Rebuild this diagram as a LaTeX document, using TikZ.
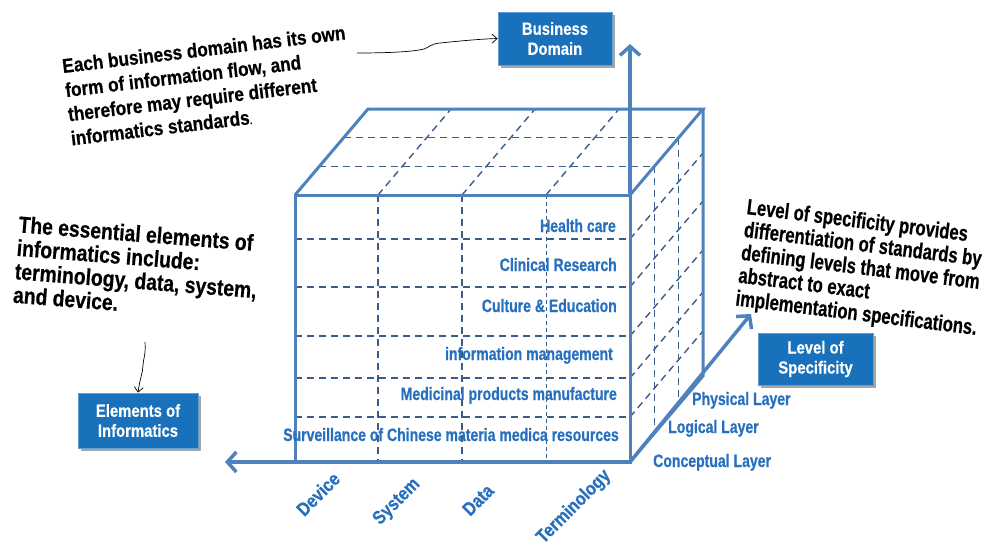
\documentclass[tikz,border=0pt]{standalone}
\usepackage{fontspec}
\setmainfont{Liberation Sans}
\newfontfamily\lblfont{Liberation Sans}[FakeStretch=0.78,FakeBold=0.6]
\newfontfamily\axfont{Liberation Sans}[FakeStretch=0.85,FakeBold=0.6]
\newfontfamily\boxfont{Liberation Sans}[FakeStretch=0.85,FakeBold=0.4]
\newfontfamily\notefont{Liberation Sans}[FakeStretch=0.86,FakeBold=0.5]
\newfontfamily\bignotefont{Liberation Sans}[FakeStretch=0.84,FakeBold=0.5]
\newfontfamily\specfont{Liberation Sans}[FakeStretch=0.755,FakeBold=0.5]
\usetikzlibrary{arrows.meta,shadows,calc}

\definecolor{edge}{RGB}{79,129,189}
\definecolor{grid}{RGB}{56,93,138}
\definecolor{lbl}{RGB}{40,112,190}
\definecolor{boxfill}{RGB}{24,113,186}
\definecolor{boxedge}{RGB}{95,158,213}

\tikzset{
  edgeline/.style={draw=edge, line width=3pt, line join=miter},
  gridline/.style={draw=grid, line width=1.4pt, dash pattern=on 7pt off 5pt},
  fineline/.style={draw=grid, line width=0.9pt, dash pattern=on 4pt off 3pt},
  axisarrow/.style={draw=edge, line width=3.5pt, -{Straight Barb[length=9pt,width=20pt]}},
  leader/.style={draw=black, line width=0.7pt, -{Straight Barb[length=5pt,width=9pt]}},
  rowlbl/.style={text=lbl, font={\fontsize{18}{20}\lblfont\bfseries}, anchor=base east, inner sep=0pt},
  layerlbl/.style={text=lbl, font={\fontsize{18}{20}\lblfont\bfseries}, anchor=base west, inner sep=0pt},
  axlbl/.style={text=lbl, font={\fontsize{19}{21}\axfont\bfseries}, rotate=45, anchor=center, inner sep=0pt},
  infobox/.style={fill=boxfill, draw=boxedge, line width=0.8pt, text=white,
    font={\fontsize{17.5}{20}\boxfont\bfseries}, align=center, inner sep=2pt,
    drop shadow={shadow xshift=2.5pt, shadow yshift=-2.5pt, opacity=0.35, fill=black}},
  note/.style={text=black, align=left, inner sep=0pt, anchor=north west}
}

\begin{document}
\begin{tikzpicture}[x=1pt,y=-1pt]
\useasboundingbox (0,0) rectangle (990,549);

% ---- interior grid of the cube ----
% front face: rows
\foreach \yy in {239,287,336,378,417}
  \draw[gridline] (295,\yy) -- (630,\yy);
% front face: columns
\foreach \xx in {378,462}
  \draw[gridline] (\xx,195) -- (\xx,462);
\draw[fineline] (546,195) -- (546,462);
% top face: column lines running back
\foreach \xx in {378,462,546}
  \draw[gridline] (\xx,195) -- ++(73,-86);
% top face: depth lines
\draw[gridline] (319.3,166.3) -- (654.3,166.3);
\draw[gridline] (343.7,137.7) -- (678.7,137.7);
% right face: depth lines
\draw[gridline] (654.3,166.3) -- (654.3,433.3);
\draw[gridline] (678.7,137.7) -- (678.7,404.7);
% right face: rows running back
\foreach \yy in {239,287,336,378,417}
  \draw[gridline] (630,\yy) -- ++(73,-86);

% ---- cube outline ----
\draw[edgeline] (295,195) rectangle (630,462);
\draw[edgeline] (295,195) -- (368,109) -- (703,109) -- (630,195);
\draw[edgeline] (703,109) -- (703,376) -- (630,462);

% ---- axes ----
\coordinate (origin) at (630,462);
\coordinate (xtip) at (225,462);
\coordinate (ytip) at (630,44);
\coordinate (ztip) at (751,314);
\draw[axisarrow] (origin) -- (xtip);
\draw[axisarrow] ([yshift=1.5pt]630,195) -- (ytip);
\draw[axisarrow] (origin) -- (ztip);

% ---- business domains (rows) ----
\node[rowlbl] (r1) at (616,232) {Health care};
\node[rowlbl] (r2) at (617,271) {Clinical Research};
\node[rowlbl] (r3) at (617,312) {Culture \& Education};
\node[rowlbl] (r4) at (613,360) {information management};
\node[rowlbl] (r5) at (617,400) {Medicinal products manufacture};
\node[rowlbl] (r6) at (619,441) {Surveillance of Chinese materia medica resources};

% ---- specificity layers ----
\node[layerlbl] (l1) at (692,405) {Physical Layer};
\node[layerlbl] (l2) at (668,433) {Logical Layer};
\node[layerlbl] (l3) at (653,467) {Conceptual Layer};

% ---- elements of informatics (columns) ----
\node[axlbl] (c1) at (318,494) {Device};
\node[axlbl] (c2) at (397,502) {System};
\node[axlbl] (c3) at (478,500) {Data};
\node[axlbl] (c4) at (574,507) {Terminology};

% ---- axis title boxes ----
\node[infobox, minimum width=114pt, minimum height=53pt] (bdbox) at (555,38.5) {Business\\Domain};
\node[infobox, minimum width=120pt, minimum height=55pt] (eibox) at (138,420.5) {Elements of\\Informatics};
\node[infobox, minimum width=115pt, minimum height=52pt] (lsbox) at (815.5,359) {Level of\\Specificity};

% ---- explanatory notes ----
\node[note, rotate=6.8, font={\fontsize{20}{24.3}\notefont\bfseries}] (bdnote) at (61.3,58.5)
  {Each business domain has its own\\form of information flow, and\\therefore may require different\\informatics standards{\fontsize{9}{9}\selectfont.}};
\node[note, rotate=-4.5, font={\fontsize{23}{23.5}\bignotefont\bfseries}] (einote) at (19.3,215.5)
  {The essential elements of\\informatics include:\\terminology, data, system,\\and device.};
\node[note, rotate=-7, font={\fontsize{22}{23}\specfont\bfseries}] (lsnote) at (748,198)
  {Level of specificity provides\\differentiation of standards by\\defining levels that move from\\abstract to exact\\implementation specifications.};

% ---- hand-drawn leaders ----
\coordinate (bdtail) at (357,53);
\draw[leader] (bdtail) .. controls (385,53) and (412,52) .. (424,49)
  .. controls (430,47) and (430,44) .. (440,43)
  .. controls (460,41) and (480,39) .. (bdbox.west);
\coordinate (eitail) at (145,342);
\draw[leader] (eitail) .. controls (146,355) and (143,360) .. (143,365)
  .. controls (143,372) and (140,378) .. (eibox.north);

\end{tikzpicture}
\end{document}
